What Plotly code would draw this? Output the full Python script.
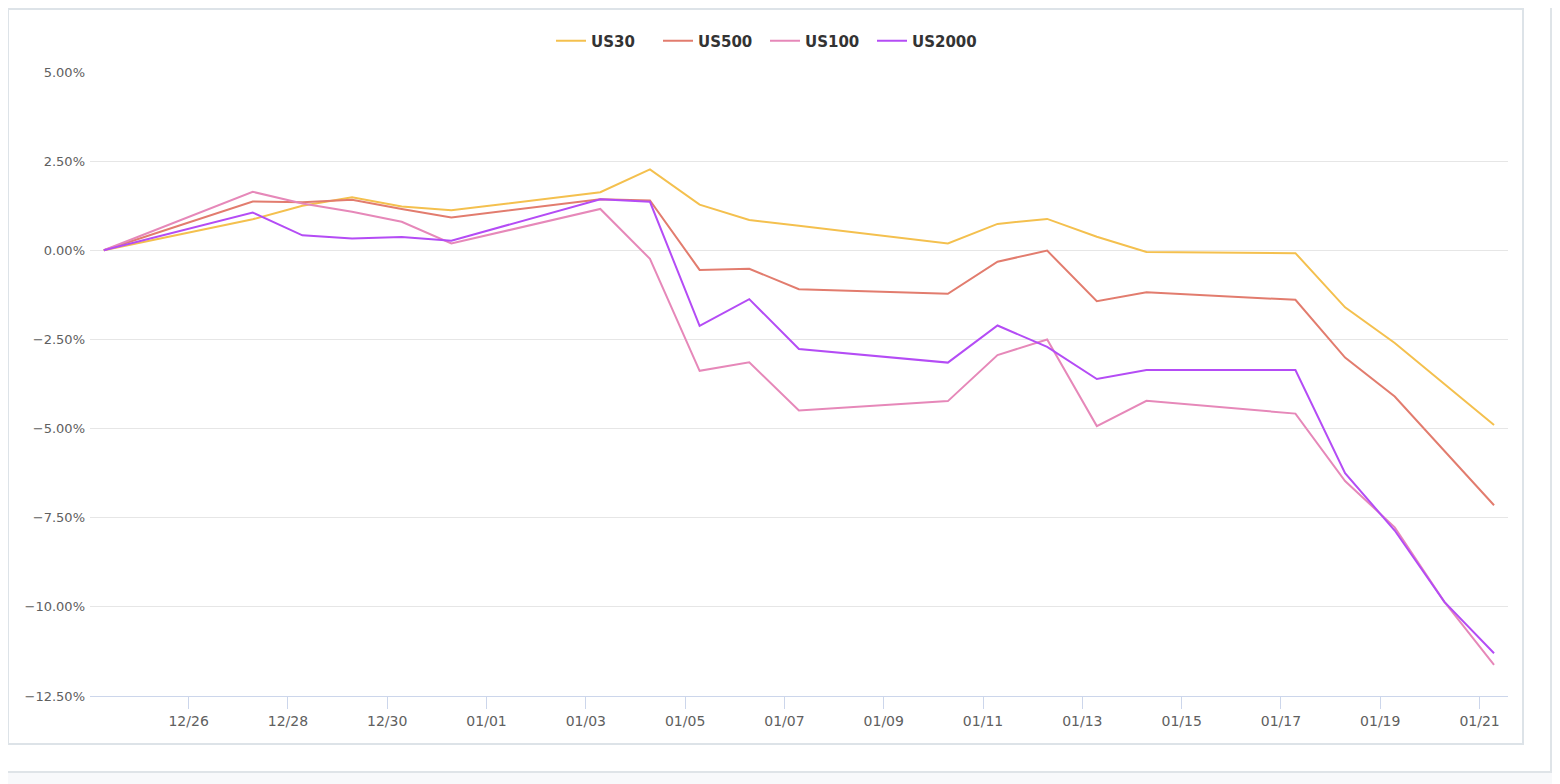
import plotly.graph_objects as go

dates = ["2021-12-24", "2021-12-27", "2021-12-28", "2021-12-29", "2021-12-30", "2021-12-31",
         "2022-01-03", "2022-01-04", "2022-01-05", "2022-01-06", "2022-01-07",
         "2022-01-10", "2022-01-11", "2022-01-12", "2022-01-13", "2022-01-14",
         "2022-01-17", "2022-01-18", "2022-01-19", "2022-01-20", "2022-01-21"]
times = [d + " 07:00" for d in dates]

us30 = [0, 0.87, 1.25, 1.49, 1.23, 1.12, 1.63, 2.27, 1.28, 0.85, 0.69,
        0.19, 0.74, 0.88, 0.38, -0.05, -0.08, -1.60, -2.60, -3.75, -4.90]
us500 = [0, 1.37, 1.35, 1.42, 1.16, 0.92, 1.43, 1.40, -0.55, -0.52, -1.09,
         -1.22, -0.32, -0.01, -1.43, -1.18, -1.39, -3.01, -4.10, -5.63, -7.15]
us100 = [0, 1.64, 1.31, 1.08, 0.80, 0.19, 1.16, -0.24, -3.38, -3.14, -4.49,
         -4.23, -2.94, -2.50, -4.93, -4.22, -4.58, -6.47, -7.77, -9.86, -11.63]
us2000 = [0, 1.06, 0.42, 0.33, 0.37, 0.27, 1.43, 1.36, -2.12, -1.37, -2.77,
          -3.15, -2.11, -2.71, -3.61, -3.36, -3.36, -6.25, -7.86, -9.86, -11.30]

series = [("US30", us30, "#f4c04e"), ("US500", us500, "#e27c6e"),
          ("US100", us100, "#e688b9"), ("US2000", us2000, "#b44cf5")]

# the html page puts the figure at (8, 8); all positions below are screen pixels
OFF = 8
W, H = 1560 - OFF, 784 - OFF
L, R, T, B = 90 - OFF, 1560 - 1508, 72 - OFF, 784 - 696
pw, ph = W - L - R, H - T - B


def px(x):
    return (x - OFF - L) / pw


def py(y):
    return (H - B - (y - OFF)) / ph


fig = go.Figure()
for name, vals, color in series:
    fig.add_scatter(x=times, y=vals, mode="lines", name=name,
                    line=dict(color=color, width=2))

# page / card frames
fig.add_shape(type="rect", xref="paper", yref="paper", layer="below",
              x0=px(-20), x1=px(1551), y0=py(772), y1=py(-20),
              fillcolor="white", line=dict(color="#dfe4e8", width=2))
fig.add_shape(type="rect", xref="paper", yref="paper", layer="below",
              x0=px(8), x1=px(1523), y0=py(744), y1=py(9),
              fillcolor="white", line=dict(color="#dde3e8", width=2))

fig.update_layout(
    width=W, height=H,
    margin=dict(l=L, r=R, t=T, b=B),
    paper_bgcolor="#f8f9fb", plot_bgcolor="rgba(0,0,0,0)",
    font=dict(family="DejaVu Sans", color="#666666", size=12),
    legend=dict(orientation="h", x=px(765), xanchor="center", y=py(41), yanchor="middle",
                font=dict(size=15, color="#333333", weight="bold"),
                entrywidth=62, entrywidthmode="pixels",
                bgcolor="rgba(0,0,0,0)"),
    xaxis=dict(type="date", range=["2021-12-24 00:20", "2022-01-21 13:45"],
               tick0="2021-12-26", dtick=2 * 86400000, tickformat="%m/%d",
               showgrid=False, showline=True, linecolor="#ccd6eb", linewidth=1,
               ticks="outside", ticklen=12, tickcolor="#ccd6eb", tickwidth=1,
               zeroline=False, tickfont=dict(size=14, color="#606060")),
    yaxis=dict(range=[-12.5, 5], dtick=2.5, tick0=0, tickformat=".2f", ticksuffix="%",
               showgrid=True, gridcolor="#e6e6e6", gridwidth=1, zeroline=False,
               showline=False, ticks="", ticklabelstandoff=4,
               tickfont=dict(size=13, color="#606060")),
    hovermode="x unified",
)

fig.write_html("out.html")
